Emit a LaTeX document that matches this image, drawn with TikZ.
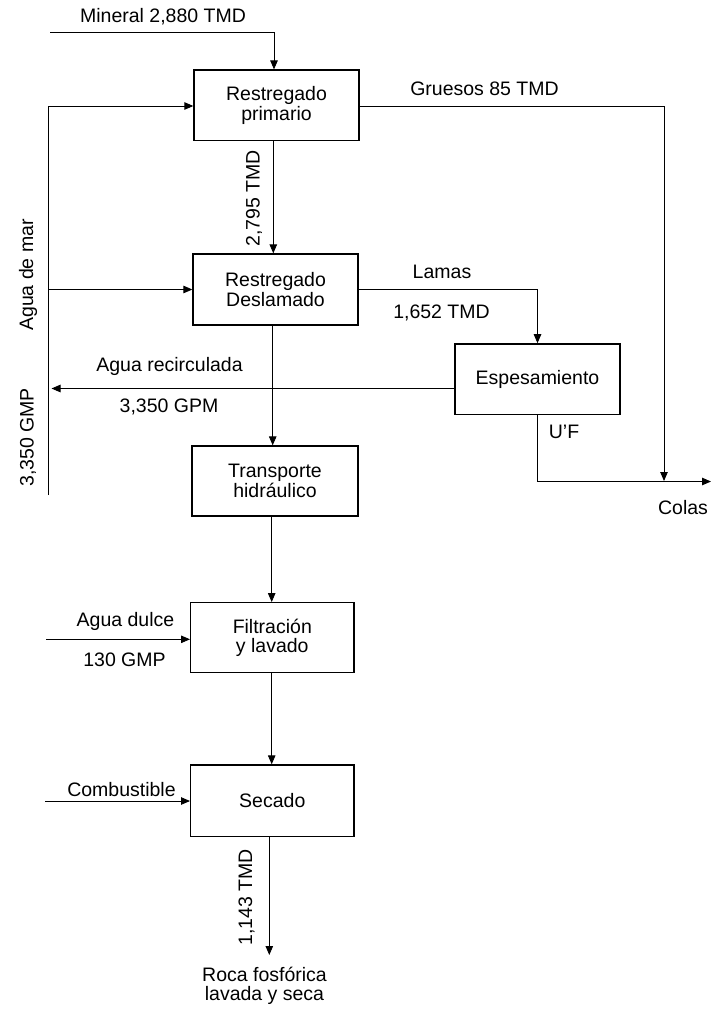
\documentclass[tikz,border=0pt]{standalone}
\usepackage{fontspec}
\setmainfont{Liberation Sans}
\usetikzlibrary{arrows.meta}
\newcommand{\dfont}{\fontsize{19.5}{19.5}\selectfont}
\begin{document}
\begin{tikzpicture}[x=1pt,y=-1pt,
  box/.style={draw,line width=1.3pt,align=center,inner sep=0pt,font=\dfont},
  lab/.style={inner sep=0pt,font=\dfont,align=center},
  conn/.style={line width=0.9pt},
  flow/.style={conn,-{Triangle[length=9pt,width=7.5pt]}}]
\useasboundingbox (0,0) rectangle (711,1009);
% process boxes
\node[box,minimum width=165pt,minimum height=70.7pt] (b1) at (276.5,105.4) {Restregado\\primario};
\node[box,minimum width=165pt,minimum height=71pt] (b2) at (275.5,289.5) {Restregado\\Deslamado};
\node[box,minimum width=165pt,minimum height=70.3pt] (esp) at (537.5,379) {Espesamiento};
\node[box,minimum width=166pt,minimum height=70pt] (tr) at (275,481) {Transporte\\hidráulico};
\node[box,minimum width=163.3pt,minimum height=70pt] (fil) at (272.3,637.7) {Filtración\\y lavado};
\node[box,minimum width=163.3pt,minimum height=71.7pt] (sec) at (272.3,800.8) {Secado};
% free ends
\coordinate (minS) at (50,32.7);
\coordinate (lt) at (48.5,106);
\coordinate (lb) at (48.5,495);
\coordinate (gr) at (664,481);
\coordinate (rc) at (51.5,388.5);
\coordinate (colas) at (711,481.5);
\coordinate (ad) at (46,639.3);
\coordinate (cb) at (45,801);
\coordinate (out) at (269.3,955);
% connectors
\draw[flow] (minS) -| ([xshift=-2.5pt]b1.north);
\draw[conn] (lb) -- (lt);
\draw[flow] (lt) -- (b1.west |- lt);
\draw[flow] (lb |- b2.west) -- (b2.west);
\draw[flow] (b1.east |- lt) -| (gr);
\draw[flow] (b2.east) -| (esp.north);
\draw[flow] (esp.west |- rc) -- (rc);
\draw[flow] (esp.south) |- (colas);
\draw[flow] ([xshift=-3.2pt]b1.south) -- ([xshift=-3.2pt]b1.south |- b2.north);
\draw[flow] ([xshift=-2.8pt]b2.south) -- ([xshift=-2.8pt]b2.south |- tr.north);
\draw[flow] ([xshift=-3.3pt]tr.south) -- ([xshift=-3.3pt]tr.south |- fil.north);
\draw[flow] ([xshift=-0.6pt]fil.south) -- ([xshift=-0.6pt]fil.south |- sec.north);
\draw[flow] (sec.south -| out) -- (out);
\draw[flow] (ad) -- (ad -| fil.west);
\draw[flow] (cb) -- (cb -| sec.west);
% labels
\node[lab] (tmin) at (163,16.5) {Mineral 2,880 TMD};
\node[lab] (tgr) at (484.5,89) {Gruesos 85 TMD};
\node[lab,rotate=90] (t2795) at (254,198.5) {2,795 TMD};
\node[lab,rotate=90] (tagua) at (28,275) {Agua de mar};
\node[lab] (tlamas) at (442,272) {Lamas};
\node[lab] (t1652) at (441.5,313) {1,652 TMD};
\node[lab] (trec) at (169.5,366) {Agua recirculada};
\node[lab] (tgpm) at (169,407) {3,350 GPM};
\node[lab,rotate=90] (tgmp) at (28,437.5) {3,350 GMP};
\node[lab] (tuf) at (564,431.5) {U’F};
\node[lab] (tcolas) at (683,508) {Colas};
\node[lab] (tad) at (125.5,621.5) {Agua dulce};
\node[lab] (t130) at (124.5,660) {130 GMP};
\node[lab] (tcomb) at (121.5,790) {Combustible};
\node[lab,rotate=90] (t1143) at (246.5,897.5) {1,143 TMD};
\node[lab] (troca) at (264.5,986) {Roca fosfórica\\lavada y seca};
\end{tikzpicture}
\end{document}
